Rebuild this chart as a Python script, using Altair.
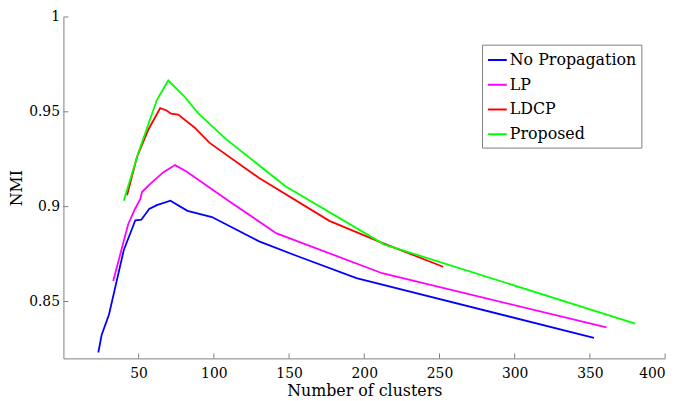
import altair as alt
import pandas as pd

series = ["No Propagation", "LP", "LDCP", "Proposed"]
colors = ["#0000ff", "#ff00ff", "#ff0000", "#00ff00"]

nop_x = [23.2, 25.4, 30.3, 40.1, 47.8, 51.8, 57.0, 62.1, 71.1, 82.5, 98.7, 130.1, 155.3, 194.8, 352.7]
nop_y = [0.8231, 0.8323, 0.8431, 0.8770, 0.8928, 0.8931, 0.8988, 0.9008, 0.9031, 0.8978, 0.8945, 0.8817, 0.8740, 0.8623, 0.8308]

lp_x = [33.1, 43.0, 47.4, 51.1, 52.2, 57.7, 66.5, 74.2, 81.8, 109.2, 141.7, 211.9, 361.0]
lp_y = [0.8608, 0.8906, 0.8985, 0.9039, 0.9077, 0.9120, 0.9182, 0.9219, 0.9185, 0.9034, 0.8859, 0.8649, 0.8363]

ldcp_x = [42.3, 48.9, 56.6, 64.3, 68.6, 71.5, 76.3, 87.3, 97.2, 130.1, 176.8, 212.3, 252.4]
ldcp_y = [0.9060, 0.9262, 0.9408, 0.9519, 0.9507, 0.9490, 0.9485, 0.9416, 0.9336, 0.9151, 0.8925, 0.8808, 0.8683]

prop_x = [40.1, 50.0, 62.1, 69.7, 80.3, 89.5, 108.1, 147.6, 213.4, 380.1]
prop_y = [0.9031, 0.9288, 0.9562, 0.9665, 0.9582, 0.9493, 0.9356, 0.9108, 0.8800, 0.8383]

x_ticks = [50, 100, 150, 200, 250, 300, 350, 400]
y_ticks = [0.85, 0.9, 0.95, 1.0]

rows = []
for name, xs, ys in zip(series, [nop_x, lp_x, ldcp_x, prop_x], [nop_y, lp_y, ldcp_y, prop_y]):
    for i, (xv, yv) in enumerate(zip(xs, ys)):
        rows.append({"series": name, "clusters": xv, "nmi": yv, "idx": i})
df = pd.DataFrame(rows)

W, H = 608, 345
FONT = "DejaVu Serif"
GRAY = "#808080"

x_scale = alt.Scale(domain=[0, 400], nice=False, zero=False)
y_scale = alt.Scale(domain=[0.82, 1.0], nice=False, zero=False)

axis_style = dict(
    domainColor=GRAY, domainWidth=1,
    labelFont=FONT, labelFontSize=14, labelColor="black",
    titleFont=FONT, titleFontSize=16, titleFontWeight="normal", titleColor="black",
    labelExpr="'' + datum.value", ticks=False, grid=False,
)
x_axis = alt.Axis(values=x_ticks, title="Number of clusters", labelPadding=8,
                  titleY=38, titleBaseline="alphabetic", **axis_style)
y_axis = alt.Axis(values=y_ticks, title="NMI", labelPadding=4,
                  titleX=-47, titleY=H / 2, titleBaseline="middle", **axis_style)

lines = alt.Chart(df).mark_line(strokeWidth=1.8).encode(
    x=alt.X("clusters:Q", scale=x_scale, axis=x_axis),
    y=alt.Y("nmi:Q", scale=y_scale, axis=y_axis),
    color=alt.Color("series:N", sort=series,
                    scale=alt.Scale(domain=series, range=colors),
                    legend=alt.Legend(title=None, orient="none", legendX=423, legendY=28,
                                      symbolType="stroke", symbolSize=361, symbolStrokeWidth=2,
                                      strokeColor=GRAY, fillColor="white", padding=5,
                                      labelFont=FONT, labelFontSize=16, labelColor="black",
                                      labelOffset=2, rowPadding=6, labelLimit=300)),
    order="idx:Q",
)

xt = alt.Chart(pd.DataFrame({"clusters": x_ticks})).mark_rule(color=GRAY, strokeWidth=1).encode(
    x=alt.X("clusters:Q", scale=x_scale, axis=x_axis),
    y=alt.value(H), y2=alt.value(H - 5),
)
yt = alt.Chart(pd.DataFrame({"nmi": y_ticks})).mark_rule(color=GRAY, strokeWidth=1).encode(
    y=alt.Y("nmi:Q", scale=y_scale, axis=y_axis),
    x=alt.value(0), x2=alt.value(5),
)

chart = alt.layer(lines, xt, yt).properties(
    width=W, height=H,
    background="white",
    autosize=alt.AutoSizeParams(type="none"),
    padding={"left": 56, "top": 7, "right": 12, "bottom": 41},
).configure_view(strokeWidth=0, stroke="transparent")

chart.save("out.html", embed_options={"renderer": "svg", "actions": False})
